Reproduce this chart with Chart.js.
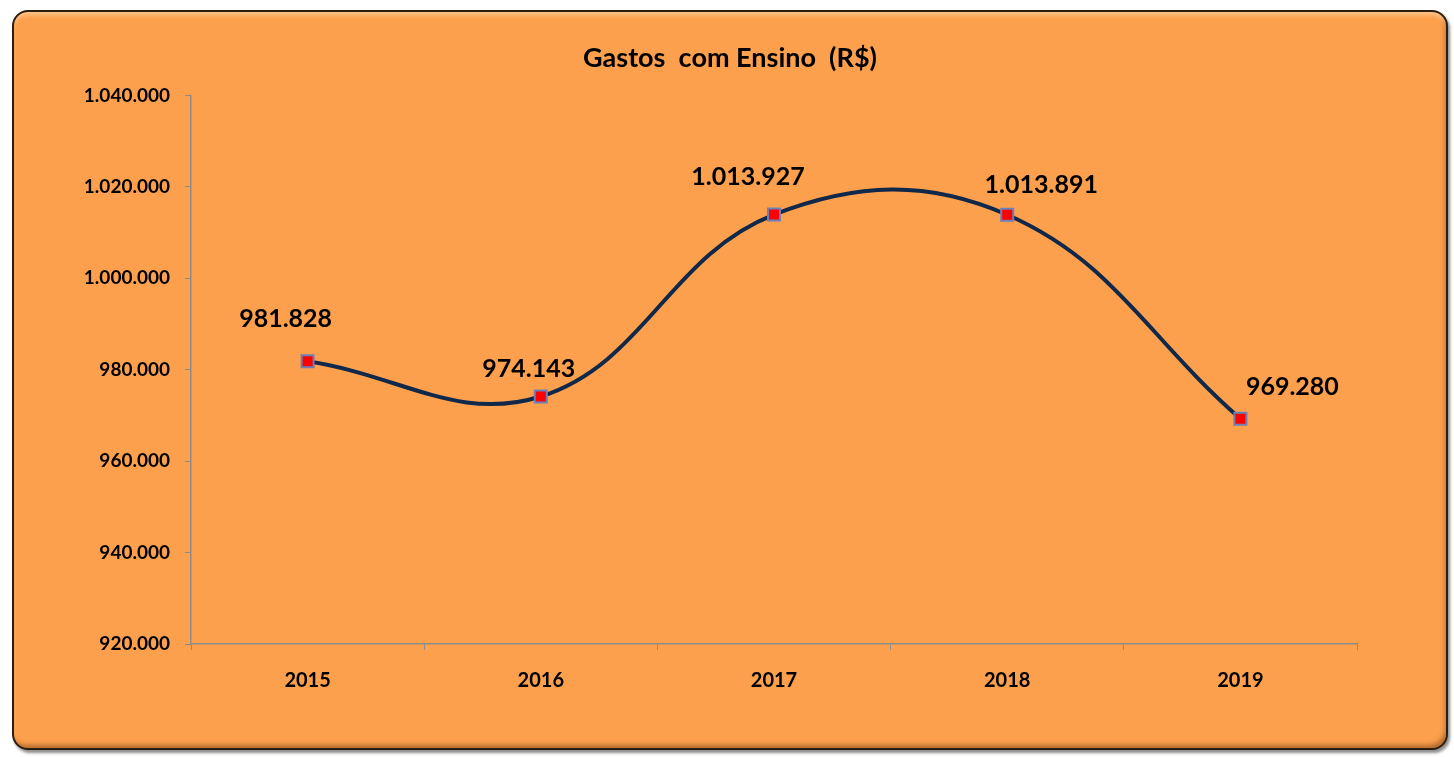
<!DOCTYPE html>
<html>
<head>
<meta charset="utf-8">
<script src="https://cdn.jsdelivr.net/npm/chart.js@4"></script>
<style>
  html, body { margin: 0; padding: 0; background: #fff; }
  #frame {
    position: absolute; left: 12px; top: 10px; width: 1436px; height: 740px;
    box-sizing: border-box; border: 2px solid #2b1d10; border-radius: 16px;
    background: #FCA04D;
    box-shadow: inset 0 5px 4px -2px rgba(255,225,190,0.55),
                inset -3px -5px 5px -2px rgba(90,40,0,0.45),
                2px 3px 3px rgba(0,0,0,0.45);
  }
  #chart { display: block; }
</style>
</head>
<body>
<div id="frame"><canvas id="chart"></canvas></div>
<script>
// dados do gráfico
const anos = ['2015', '2016', '2017', '2018', '2019'];
const gastos = [981828, 974143, 1013927, 1013891, 969280];
const yTicks = [920000, 940000, 960000, 980000, 1000000, 1020000, 1040000];

// deslocamento dos rótulos de dados (px) em relação ao ponto
const labelDx = [-22, -12, -26, 34, 52];
const labelDy = [-42, -28, -38, -30, -32];

function fmt(v) {
    return String(v).replace(/\B(?=(\d{3})+(?!\d))/g, '.');
}

const fonte = 'Lato, "Open Sans", sans-serif';

// plugin simples para escrever os valores perto dos pontos
const rotulos = {
    id: 'rotulos',
    afterDatasetsDraw(chart) {
        const ctx = chart.ctx;
        const meta = chart.getDatasetMeta(0);
        ctx.save();
        ctx.font = 'bold 25px ' + fonte;
        ctx.fillStyle = '#000';
        ctx.textAlign = 'center';
        ctx.textBaseline = 'middle';
        meta.data.forEach((pt, i) => {
            ctx.fillText(fmt(gastos[i]), pt.x + labelDx[i], pt.y + labelDy[i]);
        });
        ctx.restore();
    }
};

const canvas = document.getElementById('chart');
canvas.width = 1432;
canvas.height = 736;

new Chart(canvas.getContext('2d'), {
    type: 'line',
    data: {
        labels: anos,
        datasets: [{
            data: gastos,
            borderColor: '#10284A',
            borderWidth: 4,
            tension: 0.4,
            pointStyle: 'rect',
            pointRadius: 8.5,
            pointHoverRadius: 8.5,
            pointBackgroundColor: '#FF0000',
            pointBorderColor: '#6B80B8',
            pointBorderWidth: 2
        }]
    },
    options: {
        responsive: false,
        animation: false,
        layout: { padding: 0 },
        plugins: {
            legend: { display: false },
            tooltip: { enabled: false },
            title: {
                display: true,
                text: 'Gastos  com Ensino  (R$)',
                color: '#000',
                font: { family: fonte, size: 27, weight: 'bold', lineHeight: 1.2 },
                padding: { top: 30, bottom: 21 }
            }
        },
        scales: {
            x: {
                offset: true,
                grid: { display: true, drawOnChartArea: false, drawTicks: true, tickLength: 6, color: '#8c8c8c', offset: true },
                border: { display: true, color: '#8c8c8c', width: 1.5 },
                ticks: { color: '#000', padding: 19, font: { family: fonte, size: 20, weight: 'bold' } },
                afterFit(scale) { scale.height = 104; }
            },
            y: {
                min: 920000,
                max: 1040000,
                afterBuildTicks(scale) { scale.ticks = yTicks.map(v => ({ value: v })); },
                grid: { display: true, drawOnChartArea: false, drawTicks: true, tickLength: 6, color: '#8c8c8c' },
                border: { display: true, color: '#8c8c8c', width: 1.5 },
                ticks: { color: '#000', padding: 15, callback: v => fmt(v), font: { family: fonte, size: 19, weight: 'bold' } },
                afterFit(scale) { scale.width = 177; }
            },
            // eixo vazio à direita, só para reservar espaço
            espaco: {
                position: 'right',
                display: true,
                grid: { display: false },
                border: { display: false },
                ticks: { display: false },
                afterFit(scale) { scale.width = 89; }
            }
        }
    },
    plugins: [rotulos]
});
</script>
</body>
</html>
